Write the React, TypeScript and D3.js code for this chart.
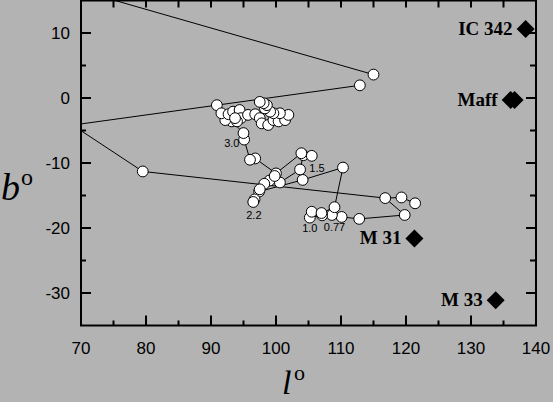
import React from 'react'
import * as d3 from 'd3'

type Pt = [number, number]

// trajectory pieces (l, b) in degrees; first points of the outer pieces lie off the frame
const outerTrackA: Pt[] = [[62, 18.8], [115.0, 3.6]]
const outerTrackB: Pt[] = [[112.9, 1.95], [90.9, -1.1], [62, -5.1]]
const outerTrackC: Pt[] = [[62, 0.25], [79.5, -11.3], [116.8, -15.4], [119.3, -15.3], [121.4, -16.2]]
const lowerTrack: Pt[] = [
  [116.8, -15.4], [119.8, -18.0], [112.8, -18.6], [110.1, -18.3], [108.6, -18.0], [107.1, -18.05],
  [105.2, -18.4], [105.5, -17.5], [107.0, -17.7], [109.0, -16.8], [110.3, -10.7], [104.1, -12.6],
  [97.4, -14.4], [96.7, -15.6], [96.5, -16.0],
]
const midTrack: Pt[] = [
  [104.1, -12.6], [103.7, -11.0], [100.6, -13.0], [99.0, -12.7], [98.2, -13.2], [97.5, -14.05], [97.4, -14.4],
]
const upperTrack: Pt[] = [
  [103.7, -11.0], [104.2, -8.8], [105.5, -8.9], [103.9, -8.5], [100.0, -11.6], [99.8, -12.0],
  [100.0, -11.6], [96.8, -9.3], [96.0, -9.5], [95.1, -6.4], [95.0, -5.4],
]
const clusterTrack: Pt[] = [
  [95.0, -5.4], [93.2, -3.6], [92.2, -3.4], [91.6, -2.35], [92.7, -2.5], [93.4, -2.1], [94.4, -1.85],
  [94.6, -3.1], [94.0, -3.6], [93.7, -3.1], [95.7, -2.6], [96.8, -2.5], [97.5, -3.1], [97.8, -3.9],
  [98.8, -4.15], [99.6, -3.4], [100.4, -3.6], [101.4, -3.4], [101.9, -2.6], [100.6, -2.35], [99.6, -2.35],
  [99.1, -2.1], [98.3, -1.6], [98.6, -1.1], [98.1, -0.8], [97.5, -0.6],
]
const tracks = [outerTrackA, outerTrackB, outerTrackC, lowerTrack, midTrack, upperTrack, clusterTrack]

// epoch labels next to the trajectory
const epochText = ['3.0', '1.5', '2.2', '1.0', '0.77']
const epochL = [93.2, 106.3, 96.6, 105.2, 109.0]
const epochB = [-7.5, -11.4, -18.6, -20.6, -20.5]

// galaxies
const diamondL = [138.4, 136.1, 136.7, 121.3, 133.8]
const diamondB = [10.6, -0.3, -0.3, -21.6, -31.1]
const galaxyNames = ['IC 342', 'Maff', 'M 31', 'M 33']
const galaxyL = [138.4, 136.1, 121.3, 133.8]
const galaxyB = [10.6, -0.3, -21.6, -31.1]

const xTicks = [70, 80, 90, 100, 110, 120, 130, 140]
const xMinor = [75, 85, 95, 105, 115, 125, 135]
const topTicks = [75, 80, 85, 90, 95, 100, 105, 110, 115, 120, 125, 130, 135]
const yTicks = [-30, -20, -10, 0, 10]
const yMinor = [-25, -15, -5, 5]

const W = 553
const H = 402

export default function App() {
  const x = d3.scaleLinear().domain([70, 140]).range([81, 536])
  const y = d3.scaleLinear().domain([-35, 15]).range([325.5, 0.5])
  const line = d3.line<Pt>().x(d => x(d[0])).y(d => y(d[1]))

  const seen = new Set<string>()
  const circles: Pt[] = []
  tracks.forEach(t => t.forEach(p => {
    const k = p.join(',')
    if (seen.has(k) || p[0] < 70 || p[1] > 15) return
    seen.add(k)
    circles.push(p)
  }))

  const diamond = d3.symbol(d3.symbolSquare, 162)()
  const left = x(70), right = x(140), top = y(15), bottom = y(-35)

  return (
    <svg width={W} height={H} style={{ position: 'absolute', left: 0, top: 0 }}>
      <rect width={W} height={H} fill="#b3b3b3" />
      <defs>
        <clipPath id="plot">
          <rect x={left} y={top} width={right - left} height={bottom - top} />
        </clipPath>
      </defs>

      <g clipPath="url(#plot)">
        {tracks.map((t, i) => (
          <path key={i} d={line(t) ?? ''} fill="none" stroke="#000" strokeWidth={1} />
        ))}
        {circles.map((p, i) => (
          <circle key={i} cx={x(p[0])} cy={y(p[1])} r={5.4} fill="#fff" stroke="#000" strokeWidth={1} />
        ))}
      </g>

      {epochText.map((t, i) => (
        <text key={t} x={x(epochL[i])} y={y(epochB[i])} textAnchor="middle"
          fontFamily="Liberation Sans, Arial, sans-serif" fontSize={11} fill="#000">{t}</text>
      ))}

      {diamondL.map((l, i) => (
        <path key={i} d={diamond} transform={`translate(${x(l)},${y(diamondB[i])}) rotate(45)`} fill="#000" />
      ))}
      {galaxyNames.map((n, i) => (
        <text key={n} x={x(galaxyL[i]) - 13} y={y(galaxyB[i]) + 6} textAnchor="end"
          fontFamily="Liberation Serif, Times New Roman, serif" fontWeight="bold" fontSize={19} fill="#000">{n}</text>
      ))}

      {/* frame and ticks */}
      <g stroke="#000" strokeWidth={2}>
        <rect x={left} y={top} width={right - left} height={bottom - top} fill="none" />
        {xTicks.map(t => <line key={'xb' + t} x1={x(t)} x2={x(t)} y1={bottom} y2={bottom - 10} />)}
        {xMinor.map(t => <line key={'xm' + t} x1={x(t)} x2={x(t)} y1={bottom} y2={bottom - 5} />)}
        {topTicks.map(t => <line key={'xt' + t} x1={x(t)} x2={x(t)} y1={top} y2={top + 7} />)}
        {yTicks.map(t => <line key={'yl' + t} x1={left} x2={left + 10} y1={y(t)} y2={y(t)} />)}
        {yMinor.map(t => <line key={'ylm' + t} x1={left} x2={left + 5} y1={y(t)} y2={y(t)} />)}
        {yTicks.map(t => <line key={'yr' + t} x1={right} x2={right - 10} y1={y(t)} y2={y(t)} />)}
        {yMinor.map(t => <line key={'yrm' + t} x1={right} x2={right - 6} y1={y(t)} y2={y(t)} />)}
      </g>

      <g fontFamily="Liberation Sans, Arial, sans-serif" fontSize={17} fill="#000">
        {xTicks.map(t => (
          <text key={t} x={x(t)} y={bottom + 28} textAnchor="middle">{t}</text>
        ))}
        {yTicks.map(t => (
          <text key={t} x={left - 11} y={y(t) + 6} textAnchor="end">{t}</text>
        ))}
      </g>

      <g fontFamily="Liberation Serif, Times New Roman, serif" fill="#000">
        <text x={1} y={200} fontSize={38} fontStyle="italic">b</text>
        <text x={21} y={185} fontSize={24}>o</text>
        <text x={282} y={394} fontSize={34} fontStyle="italic">l</text>
        <text x={294} y={380} fontSize={22}>o</text>
      </g>
    </svg>
  )
}
